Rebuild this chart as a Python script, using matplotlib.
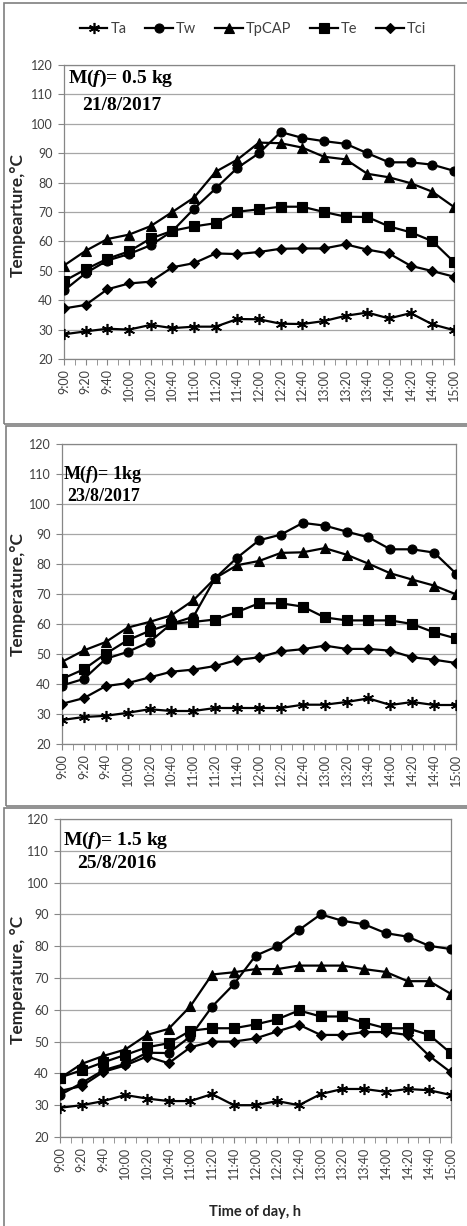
import matplotlib
matplotlib.use("Agg")
import matplotlib.pyplot as plt
from matplotlib.patches import Rectangle

plt.rcParams["mathtext.fontset"] = "custom"
plt.rcParams["mathtext.it"] = "Liberation Serif:italic:bold"

# time axis (20 min steps)
times = ["9:00", "9:20", "9:40", "10:00", "10:20", "10:40", "11:00", "11:20", "11:40", "12:00",
         "12:20", "12:40", "13:00", "13:20", "13:40", "14:00", "14:20", "14:40", "15:00"]
series_names = ["Ta", "Tw", "TpCAP", "Te", "Tci"]

# M(f) = 0.5 kg, 21/8/2017
ta1 = [28.4, 29.4, 30.3, 30.0, 31.6, 30.5, 31.0, 31.0, 33.6, 33.5, 32.0, 31.9, 32.9, 34.7, 35.8, 33.8, 35.6, 31.8, 29.8]
tw1 = [43.3, 49.2, 53.5, 55.7, 58.7, 63.5, 71.1, 78.0, 85.0, 90.0, 97.2, 95.2, 94.1, 93.2, 90.0, 86.9, 86.9, 86.1, 84.0]
tp1 = [51.8, 56.8, 60.8, 62.3, 65.2, 70.0, 74.9, 83.7, 87.8, 93.6, 93.4, 91.9, 88.8, 87.9, 83.0, 81.8, 79.8, 76.9, 71.7]
te1 = [46.5, 50.5, 54.1, 56.6, 61.0, 63.6, 65.1, 66.2, 70.1, 70.9, 71.8, 71.8, 70.0, 68.4, 68.3, 65.1, 63.1, 60.1, 53.0]
tci1 = [37.2, 38.4, 43.7, 45.7, 46.3, 51.2, 52.6, 55.9, 55.7, 56.4, 57.5, 57.6, 57.6, 59.0, 57.2, 55.9, 51.7, 49.9, 48.0]

# M(f) = 1 kg, 23/8/2017
ta2 = [28.0, 29.0, 29.4, 30.4, 31.6, 31.0, 31.0, 32.0, 32.0, 32.0, 32.0, 33.1, 33.1, 34.0, 35.2, 33.0, 34.0, 33.0, 33.0]
tw2 = [39.5, 41.7, 48.4, 50.7, 54.0, 60.1, 62.4, 75.3, 82.1, 87.9, 89.8, 93.7, 92.8, 90.8, 88.9, 84.9, 84.9, 83.8, 76.8]
tp2 = [47.4, 51.2, 54.0, 58.8, 60.7, 62.9, 67.9, 75.3, 79.6, 81.0, 83.7, 83.9, 85.3, 83.1, 80.1, 76.9, 74.8, 72.8, 69.9]
te2 = [41.7, 44.9, 50.1, 54.6, 57.7, 60.1, 60.7, 61.5, 64.0, 66.9, 66.9, 65.8, 62.2, 61.2, 61.2, 61.2, 60.0, 57.2, 55.2]
tci2 = [33.4, 35.3, 39.3, 40.3, 42.2, 44.1, 44.8, 46.0, 48.0, 48.9, 50.9, 51.6, 52.8, 51.7, 51.7, 51.1, 48.9, 48.1, 47.0]

# M(f) = 1.5 kg, 25/8/2016
ta3 = [29.2, 30.0, 31.3, 33.2, 32.1, 31.3, 31.3, 33.5, 30.0, 30.0, 31.3, 30.0, 33.5, 35.1, 35.1, 34.2, 35.1, 34.7, 33.2]
tw3 = [33.2, 37.0, 41.0, 43.0, 46.5, 46.4, 51.6, 61.0, 68.0, 77.0, 80.0, 85.1, 90.0, 88.0, 86.9, 84.1, 83.0, 80.1, 79.1]
tp3 = [38.5, 43.0, 45.5, 47.5, 52.1, 54.0, 61.1, 71.1, 71.8, 72.8, 72.8, 73.9, 73.9, 73.9, 72.8, 71.9, 69.0, 69.0, 65.0]
te3 = [38.7, 41.0, 43.5, 45.8, 48.2, 49.5, 53.4, 54.2, 54.2, 55.4, 57.0, 59.8, 57.9, 57.9, 56.0, 54.2, 54.2, 52.1, 46.3]
tci3 = [34.5, 36.0, 40.5, 42.5, 45.3, 43.2, 48.2, 50.0, 50.0, 51.0, 53.2, 55.3, 52.1, 52.1, 53.0, 53.0, 52.1, 45.5, 40.3]

panels = [
    ([ta1, tw1, tp1, te1, tci1], "Tempearture,°C", "0.5 kg", "21/8/2017"),
    ([ta2, tw2, tp2, te2, tci2], "Temperature,°C", "1kg", "23/8/2017"),
    ([ta3, tw3, tp3, te3, tci3], "Temperature, °C", "1.5 kg", "25/8/2016"),
]

W, H = 467, 1226
fig = plt.figure(figsize=(W / 100, H / 100), dpi=100)
fig.patch.set_facecolor("white")

font = ["Lato", "DejaVu Sans"]
grey = "#868686"
txt = "#404040"

markers = [(6, 2, 0), "o", "^", "s", "D"]
msizes = [8, 6.5, 7, 6.5, 5]

# outer frames of the three charts (pixels: left, top, right, bottom)
frames = [(4, 3, 470, 424), (6, 426, 470, 806), (4, 808, 470, 1230)]
for l, t, r, b in frames:
    fig.patches.append(Rectangle((l / W, 1 - b / H), (r - l) / W, (b - t) / H,
                                 transform=fig.transFigure, fill=False,
                                 edgecolor="#7f7f7f", linewidth=1.2))

# plot areas (pixels)
boxes = [(64, 65, 454, 359), (62, 444, 456, 744), (60, 819, 451, 1137)]
ylabel_y = [215, 594, 980]
ann = [((68, 78), (82, 105)), ((63, 474), (67, 496)), ((63, 840), (77, 864))]

x = list(range(len(times)))
axes = []
for i, (data, ylab, mass, date) in enumerate(panels):
    l, t, r, b = boxes[i]
    ax = fig.add_axes([l / W, 1 - b / H, (r - l) / W, (b - t) / H])
    axes.append(ax)
    for k, vals in enumerate(data):
        ax.plot(x, vals, color="black", linewidth=1.6, marker=markers[k],
                markersize=msizes[k], markeredgewidth=1.2 if k == 0 else 0.8,
                label=series_names[k], zorder=3)
    ax.set_xlim(0, len(times) - 1)
    ax.set_ylim(20, 120)
    ax.set_yticks(range(20, 121, 10))
    ax.set_xticks(x)
    ax.set_xticks([v + 0.5 for v in x[:-1]], minor=True)
    ax.set_xticklabels(times, rotation=90, fontsize=9, family=font, color=txt)
    for lab in ax.get_yticklabels():
        lab.set_fontsize(9)
        lab.set_family(font)
        lab.set_color(txt)
    ax.tick_params(axis="y", length=4, color=grey, pad=4)
    ax.tick_params(axis="x", which="both", length=4, color=grey, pad=3)
    ax.grid(axis="y", color="#a6a6a6", linewidth=0.9)
    ax.set_axisbelow(True)
    for s in ax.spines.values():
        s.set_color(grey)
        s.set_linewidth(0.9)

    fig.text(18 / W, 1 - ylabel_y[i] / H, ylab, rotation=90, ha="center", va="center",
             fontsize=12.5, fontweight="bold", family=font, color="#262626")
    (mx, my), (dx, dy) = ann[i]
    fs = 13 if i == 1 else 14
    fig.text(mx / W, 1 - my / H, "M(" + r"$\mathit{f}$" + ")= " + mass, ha="left", va="center",
             fontsize=fs, fontweight="bold", family="Liberation Serif", color="black")
    fig.text(dx / W, 1 - dy / H, date, ha="left", va="center",
             fontsize=fs, fontweight="bold", family="Liberation Serif", color="black")

handles, labels = axes[0].get_legend_handles_labels()
leg = fig.legend(handles, labels, loc="center", bbox_to_anchor=(253 / W, 1 - 29 / H), ncol=5,
                 frameon=False, handlelength=1.9, handletextpad=0.2, columnspacing=1.3,
                 prop={"family": font, "size": 10.5})
for t in leg.get_texts():
    t.set_color(txt)

fig.text(255 / W, 1 - 1212 / H, "Time of day, h", ha="center", va="center",
         fontsize=10.5, fontweight="bold", family=font, color="#262626")

fig.savefig("out.png", dpi=100)
